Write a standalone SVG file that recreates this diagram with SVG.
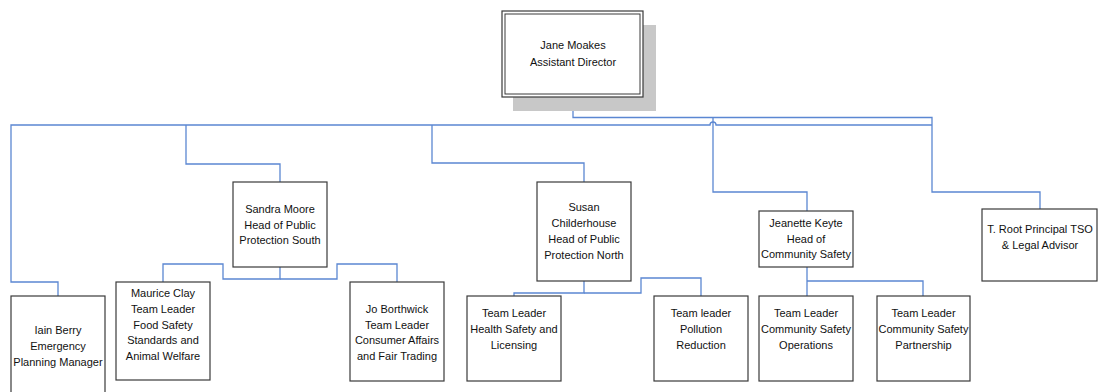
<svg xmlns="http://www.w3.org/2000/svg" width="1099" height="392" viewBox="0 0 1099 392">
<style>
.box{fill:#fff;stroke:#3a3a3a;stroke-width:1.2}
.lbl{font-family:"Liberation Sans",Arial,sans-serif;font-size:11px;fill:#111;text-anchor:middle}
.con{fill:none;stroke:#5b87d2;stroke-width:1.3}
</style>
<rect width="1099" height="392" fill="#fff"/>
<g id="connectors">
<path class="con" d="M573,97 V117.5 H932 V192 H1040 V209"/>
<path class="con" d="M932,125 H716 A3,3 0 0 0 710,125 H11 V282 H58 V296"/>
<path class="con" d="M186,125 V164 H280 V182"/>
<path class="con" d="M432,125 V163 H584 V182"/>
<path class="con" d="M713,117.5 V192 H807 V211"/>
<path class="con" d="M280,267 V279 H223 V264 H163 V282"/>
<path class="con" d="M280,279 H337 V264 H397 V282"/>
<path class="con" d="M584,281 V293 H514 V296"/>
<path class="con" d="M584,293 H641 V278 H701 V296"/>
<path class="con" d="M807,267 V296"/>
<path class="con" d="M807,281 H923 V296"/>
</g>
<g id="jane">
<rect x="513" y="25" width="143" height="86" fill="#c8c8c8"/>
<rect class="box" x="502" y="11" width="141" height="86"/>
<rect x="505" y="14" width="135" height="80" fill="none" stroke="#3a3a3a" stroke-width="1"/>
<text class="lbl" x="573" y="49">Jane Moakes</text>
<text class="lbl" x="573" y="66">Assistant Director</text>
</g>
<g id="sandra">
<rect class="box" x="233" y="182" width="94" height="85"/>
<text class="lbl" x="280" y="213">Sandra Moore</text>
<text class="lbl" x="280" y="228.5">Head of Public</text>
<text class="lbl" x="280" y="244">Protection South</text>
</g>
<g id="susan">
<rect class="box" x="537" y="182" width="94" height="99"/>
<text class="lbl" x="584" y="211">Susan</text>
<text class="lbl" x="584" y="227">Childerhouse</text>
<text class="lbl" x="584" y="243">Head of Public</text>
<text class="lbl" x="584" y="259">Protection North</text>
</g>
<g id="jeanette">
<rect class="box" x="759" y="211" width="94" height="56"/>
<text class="lbl" x="806" y="227">Jeanette Keyte</text>
<text class="lbl" x="806" y="243">Head of</text>
<text class="lbl" x="806" y="258">Community Safety</text>
</g>
<g id="troot">
<rect class="box" x="982" y="209" width="115" height="72"/>
<text class="lbl" x="1040" y="233">T. Root Principal TSO</text>
<text class="lbl" x="1040" y="249">&amp; Legal Advisor</text>
</g>
<g id="iain">
<rect class="box" x="11" y="296" width="94" height="100"/>
<text class="lbl" x="58" y="334">Iain Berry</text>
<text class="lbl" x="58" y="350">Emergency</text>
<text class="lbl" x="58" y="366">Planning Manager</text>
</g>
<g id="maurice">
<rect class="box" x="116" y="282" width="94" height="98"/>
<text class="lbl" x="163" y="297">Maurice Clay</text>
<text class="lbl" x="163" y="313">Team Leader</text>
<text class="lbl" x="163" y="328.5">Food Safety</text>
<text class="lbl" x="163" y="344">Standards and</text>
<text class="lbl" x="163" y="360">Animal Welfare</text>
</g>
<g id="jo">
<rect class="box" x="350" y="282" width="94" height="99"/>
<text class="lbl" x="397" y="313">Jo Borthwick</text>
<text class="lbl" x="397" y="328.5">Team Leader</text>
<text class="lbl" x="397" y="344">Consumer Affairs</text>
<text class="lbl" x="397" y="360">and Fair Trading</text>
</g>
<g id="hsl">
<rect class="box" x="467" y="296" width="94" height="85"/>
<text class="lbl" x="514" y="317">Team Leader</text>
<text class="lbl" x="514" y="333">Health Safety and</text>
<text class="lbl" x="514" y="349">Licensing</text>
</g>
<g id="pollution">
<rect class="box" x="654" y="296" width="94" height="85"/>
<text class="lbl" x="701" y="317">Team leader</text>
<text class="lbl" x="701" y="333">Pollution</text>
<text class="lbl" x="701" y="349">Reduction</text>
</g>
<g id="csops">
<rect class="box" x="759" y="296" width="94" height="85"/>
<text class="lbl" x="806" y="317">Team Leader</text>
<text class="lbl" x="806" y="333">Community Safety</text>
<text class="lbl" x="806" y="349">Operations</text>
</g>
<g id="cspart">
<rect class="box" x="877" y="296" width="93" height="85"/>
<text class="lbl" x="923.5" y="317">Team Leader</text>
<text class="lbl" x="923.5" y="333">Community Safety</text>
<text class="lbl" x="923.5" y="349">Partnership</text>
</g>
</svg>
